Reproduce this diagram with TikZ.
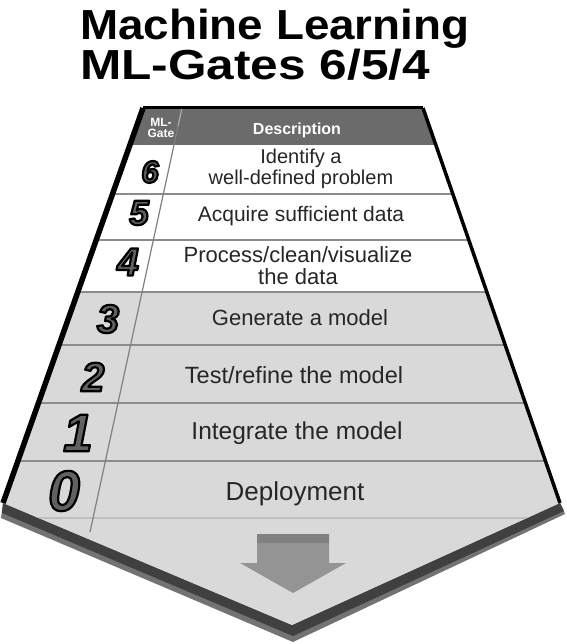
\documentclass[tikz,border=0pt]{standalone}
\usepackage{fontspec}
\setmainfont{Liberation Sans}
\definecolor{facegray}{gray}{0.85}
\definecolor{headgray}{gray}{0.42}
\definecolor{bandgray}{gray}{0.25}
\definecolor{arrowgray}{gray}{0.58}
\newcommand{\fsz}[1]{\fontsize{#1}{1.05\dimexpr#1pt\relax}\selectfont}
% outlined digit (fill + stroke text)
\newcommand{\outlined}[1]{\special{pdf:code q 2 Tr 2.2 w 0 G 1 j}#1\special{pdf:code Q}}
\begin{document}
\begin{tikzpicture}[x=1pt,y=-1pt]
	\tikzset{rowtxt/.style={text=black!85, align=center, inner sep=0pt},
		gatenum/.style={font=\bfseries\itshape, inner sep=0pt, text=black!62},
		rowline/.style={draw=black!45, line width=1.6pt},
		headtxt/.style={text=white, inner sep=0pt, align=center}};

	\useasboundingbox (0,0) rectangle (566,644);

	% title
	\node[anchor=north west, inner sep=0pt, align=left, font=\fontsize{42}{36}\selectfont\bfseries] (title) at (80,9)
		{\scalebox{1.09}[1]{Machine Learning}\\\scalebox{1.18}[1]{ML-Gates 6/5/4}};

	% bottom band
	\fill[black!55] (3,503) -- (292,625) -- (560,503) -- (565,514) -- (293,642) -- (1,518) -- cycle;
	\fill[bandgray] (3,503) -- (292,625) -- (560,503) -- (564,511) -- (293,636) -- (2,513) -- cycle;

	% face
	\fill[facegray] (143,108) -- (423,108) -- (560,503) -- (292,625) -- (3,503) -- cycle;
	\begin{scope}
		\clip (143,108) -- (423,108) -- (560,503) -- (292,625) -- (3,503) -- cycle;
		\fill[white] (0,145) rectangle (566,292);
		\fill[headgray] (0,108) rectangle (566,145);
		\draw[rowline] (0,194) -- (566,194);
		\draw[rowline] (0,240) -- (566,240);
		\draw[rowline] (0,292) -- (566,292);
		\draw[rowline] (0,345) -- (566,345);
		\draw[rowline] (0,403) -- (566,403);
		\draw[rowline] (0,461) -- (566,461);
		\draw[rowline, draw=black!25] (0,518) -- (566,518);
		\draw[draw=black!50, line width=1.2pt] (182,108) -- (90,532);
		\draw[draw=black!30, line width=1pt] (182,108) -- (178,126);
	\end{scope}
	\draw[line width=3pt] (143,108) -- (423,108);
	\draw[line width=3.5pt] (423,108) -- (560,503);
	\draw[line width=5.5pt] (143,108) -- (3,503);

	% arrow
	\fill[arrowgray] (257,534) -- (329,534) -- (329,563) -- (346,563) -- (293,593) -- (240,563) -- (257,563) -- cycle;
	\fill[black!50] (257,534) rectangle (329,543);

	% header
	\node[headtxt, font=\fontsize{12}{11}\selectfont\bfseries] (hgate) at (161,128) {ML-\\Gate};
	\node[headtxt, font=\fsz{16}\bfseries] (hdesc) at (297,130) {Description};

	% gates
	\node[gatenum] (n6) at (150,172) {\fsz{31}\outlined{6}};
	\node[gatenum] (n5) at (139,213) {\fsz{35}\outlined{5}};
	\node[gatenum] (n4) at (128,262) {\fsz{39}\outlined{4}};
	\node[gatenum] (n3) at (108,319) {\fsz{40}\outlined{3}};
	\node[gatenum] (n2) at (93,377) {\fsz{41}\outlined{2}};
	\node[gatenum] (n1) at (78,433) {\fsz{53}\outlined{1}};
	\node[gatenum] (n0) at (64,491) {\fsz{57}\outlined{0}};

	% descriptions
	\node[rowtxt, font=\fsz{20}] (d6) at (301,169) {Identify a\\[0pt]well-defined problem};
	\node[rowtxt, font=\fsz{21}] (d5) at (301,216) {Acquire sufficient data};
	\node[rowtxt, font=\fsz{22}] (d4) at (298,266) {Process/clean/visualize\\[-1pt]the data};
	\node[rowtxt, font=\fsz{22}] (d3) at (300,318) {Generate a model};
	\node[rowtxt, font=\fsz{23.5}] (d2) at (294,375) {Test/refine the model};
	\node[rowtxt, font=\fsz{24.5}] (d1) at (297,433) {Integrate the model};
	\node[rowtxt, font=\fsz{26}] (d0) at (295,494) {Deployment};
\end{tikzpicture}
\end{document}
